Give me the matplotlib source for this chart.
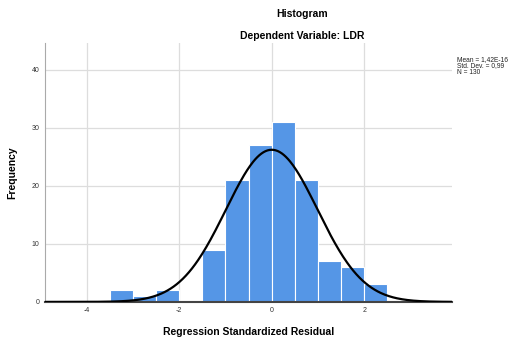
import numpy as np
import matplotlib
matplotlib.use("Agg")
import matplotlib.pyplot as plt

plt.rcParams['font.family'] = ['Liberation Sans', 'DejaVu Sans']
plt.rcParams['axes.unicode_minus'] = False

# histogram of standardized residuals (bin width 0.5)
bin_edges = [-3.5, -3.0, -2.5, -2.0, -1.5, -1.0, -0.5, 0.0, 0.5, 1.0, 1.5, 2.0, 2.5]
counts = [2, 1, 2, 0, 9, 21, 27, 31, 21, 7, 6, 3]

mean = 1.42e-16
std = 0.99
n = 130
x_ticks = [-4, -2, 0, 2]
y_ticks = [0, 10, 20, 30, 40]

fig = plt.figure(figsize=(5.11, 3.40), dpi=100)
ax = fig.add_axes([0.088, 0.112, 0.797, 0.762])

widths = np.diff(bin_edges)
ax.bar(bin_edges[:-1], counts, width=widths, align='edge',
       color='#5596e6', edgecolor='white', linewidth=0.8, zorder=2)

# normal curve scaled to counts
xs = np.linspace(-4.9, 3.9, 400)
bw = widths[0]
ys = n * bw / (std * np.sqrt(2 * np.pi)) * np.exp(-0.5 * ((xs - mean) / std) ** 2)
ax.plot(xs, ys, color='black', linewidth=1.6, zorder=4)

ax.set_xlim(-4.9, 3.9)
ax.set_ylim(0, 44.6)
ax.set_xticks(x_ticks)
ax.set_yticks(y_ticks)
ax.tick_params(length=0, labelsize=5, colors='#333333', pad=4)
ax.grid(True, color='#dddddd', linewidth=0.9, zorder=0)
ax.set_axisbelow(True)
for s in ['top', 'right']:
    ax.spines[s].set_visible(False)
ax.spines['left'].set_color('#aaaaaa')
ax.spines['left'].set_linewidth(0.8)
ax.spines['bottom'].set_color('#444444')
ax.spines['bottom'].set_linewidth(1.5)
ax.spines['bottom'].set_zorder(3)

ax.set_xlabel('Regression Standardized Residual', fontsize=7.5, fontweight='bold', labelpad=9)
ax.set_ylabel('Frequency', fontsize=7.5, fontweight='bold', labelpad=10)

fig.text(302 / 511, 1 - 14 / 340, 'Histogram', ha='center', va='center',
         fontsize=7.5, fontweight='bold')
fig.text(302 / 511, 1 - 36 / 340, 'Dependent Variable: LDR', ha='center', va='center',
         fontsize=7.5, fontweight='bold')

fig.text(457 / 511, 1 - 66 / 340, 'Mean = 1,42E-16\nStd. Dev. = 0,99\nN = 130',
         ha='left', va='center', fontsize=4.8, linespacing=0.95, color='#222222')

fig.savefig('out.png', dpi=100, facecolor='white')
